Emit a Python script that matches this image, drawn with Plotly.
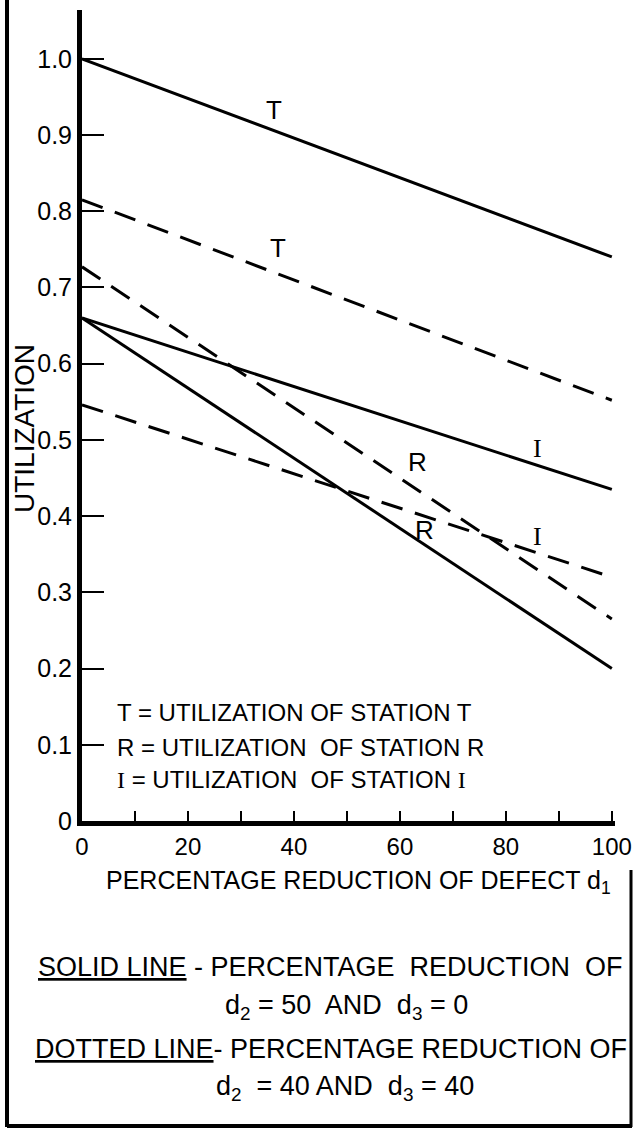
import plotly.graph_objects as go

# ---- data ----
x_reduction = [0, 100]
solid_T = [1.0, 0.74]
solid_R = [0.66, 0.20]
solid_I = [0.66, 0.435]
dotted_T = [0.815, 0.552]
dotted_R = [0.727, 0.265]
dotted_I = [0.546, 0.32]

x_tickvals = [0, 20, 40, 60, 80, 100]
x_ticktext = ["0", "20", "40", "60", "80", "100"]
y_tickvals = [0, 0.1, 0.2, 0.3, 0.4, 0.5, 0.6, 0.7, 0.8, 0.9, 1.0]
y_ticktext = ["0", "0.1", "0.2", "0.3", "0.4", "0.5", "0.6", "0.7", "0.8", "0.9", "1.0"]

# line labels: (text, x, y, font)
line_labels = [
    ("T", 36.2, 0.933, "Liberation Sans"),
    ("T", 37.0, 0.752, "Liberation Sans"),
    ("R", 63.4, 0.471, "Liberation Sans"),
    ("R", 64.7, 0.382, "Liberation Sans"),
    ("I", 85.9, 0.489, "Liberation Serif"),
    ("I", 85.9, 0.373, "Liberation Serif"),
]

FONT = "Liberation Sans"
W, H = 633, 1129
ML, MR, MT, MB = 82, 18, 10, 308

fig = go.Figure()
solid_style = dict(color="black", width=3)
dotted_style = dict(color="black", width=3, dash="22px,13px")
for ys in [solid_T, solid_R, solid_I]:
    fig.add_trace(go.Scatter(x=x_reduction, y=ys, mode="lines", line=solid_style,
                             showlegend=False, hoverinfo="skip"))
for ys in [dotted_T, dotted_R, dotted_I]:
    fig.add_trace(go.Scatter(x=x_reduction, y=ys, mode="lines", line=dotted_style,
                             showlegend=False, hoverinfo="skip"))

ann = []
for txt, lx, ly, fnt in line_labels:
    ann.append(dict(x=lx, y=ly, xref="x", yref="y", text=txt, showarrow=False,
                    xanchor="center", yanchor="middle",
                    font=dict(family=fnt, size=26, color="black")))

serif_I = "<span style='font-family:Liberation Serif'>I</span>"
legend_lines = [
    ("T = UTILIZATION OF STATION T", 0.143),
    ("R = UTILIZATION  OF STATION R", 0.097),
    (serif_I + " = UTILIZATION  OF STATION " + serif_I, 0.054),
]
for txt, ly in legend_lines:
    ann.append(dict(x=6.2, y=ly, xref="x", yref="y", text=txt, showarrow=False,
                    xanchor="left", yanchor="middle",
                    font=dict(family=FONT, size=24, color="black")))

def py(pix):
    return (H - MB - pix) / (H - MT - MB)

def px(pix):
    return (pix - ML) / (W - ML - MR)

def note(text, xc, yc, size, angle=0):
    return dict(x=px(xc), y=py(yc), xref="paper", yref="paper", text=text,
                textangle=angle, showarrow=False, xanchor="center", yanchor="middle",
                font=dict(family=FONT, size=size, color="black"))

ann += [
    note("UTILIZATION", 24, 429, 28, -90),
    note("PERCENTAGE REDUCTION OF DEFECT d<sub>1</sub>", 358, 882, 25),
    note("<u>SOLID LINE</u> - PERCENTAGE  REDUCTION  OF", 330, 967, 27),
    note("d<sub>2</sub> = 50  AND  d<sub>3</sub> = 0", 346, 1007, 27),
    note("<u>DOTTED LINE</u>- PERCENTAGE REDUCTION OF", 331, 1049, 27),
    note("d<sub>2</sub>  = 40 AND  d<sub>3</sub> = 40", 345, 1088, 27),
]

shapes = [
    dict(type="line", xref="paper", yref="paper", x0=px(7), x1=px(7), y0=py(0), y1=py(1127),
         line=dict(color="black", width=4)),
    dict(type="line", xref="paper", yref="paper", x0=px(7), x1=px(632), y0=py(1126), y1=py(1126),
         line=dict(color="black", width=4)),
    dict(type="line", xref="paper", yref="paper", x0=px(631), x1=px(631), y0=py(870), y1=py(1127),
         line=dict(color="black", width=3)),
]

fig.update_layout(
    width=W, height=H,
    margin=dict(l=ML, r=MR, t=MT, b=MB, autoexpand=False),
    paper_bgcolor="white", plot_bgcolor="white",
    annotations=ann, shapes=shapes,
    font=dict(family=FONT, color="black"),
)
fig.update_xaxes(range=[0, 100.6], showgrid=False, zeroline=False, automargin=False,
                 showline=True, linecolor="black", linewidth=5,
                 ticks="inside", ticklen=10, tickwidth=2, tickcolor="black",
                 tickvals=x_tickvals, ticktext=x_ticktext, ticklabeloverflow="allow",
                 minor=dict(dtick=10, tick0=0, ticks="inside", ticklen=10, tickwidth=2,
                            tickcolor="black", showgrid=False),
                 tickfont=dict(family=FONT, size=24, color="black"))
fig.update_yaxes(range=[0, 1.064], showgrid=False, zeroline=False, automargin=False,
                 showline=True, linecolor="black", linewidth=5,
                 ticks="inside", ticklen=22, tickwidth=2, tickcolor="black",
                 tickvals=y_tickvals, ticktext=y_ticktext,
                 tickfont=dict(family=FONT, size=25, color="black"))

fig.write_html("out.html", config={"displayModeBar": False},
               post_script="document.body.style.margin='0';document.body.style.overflow='hidden';")
